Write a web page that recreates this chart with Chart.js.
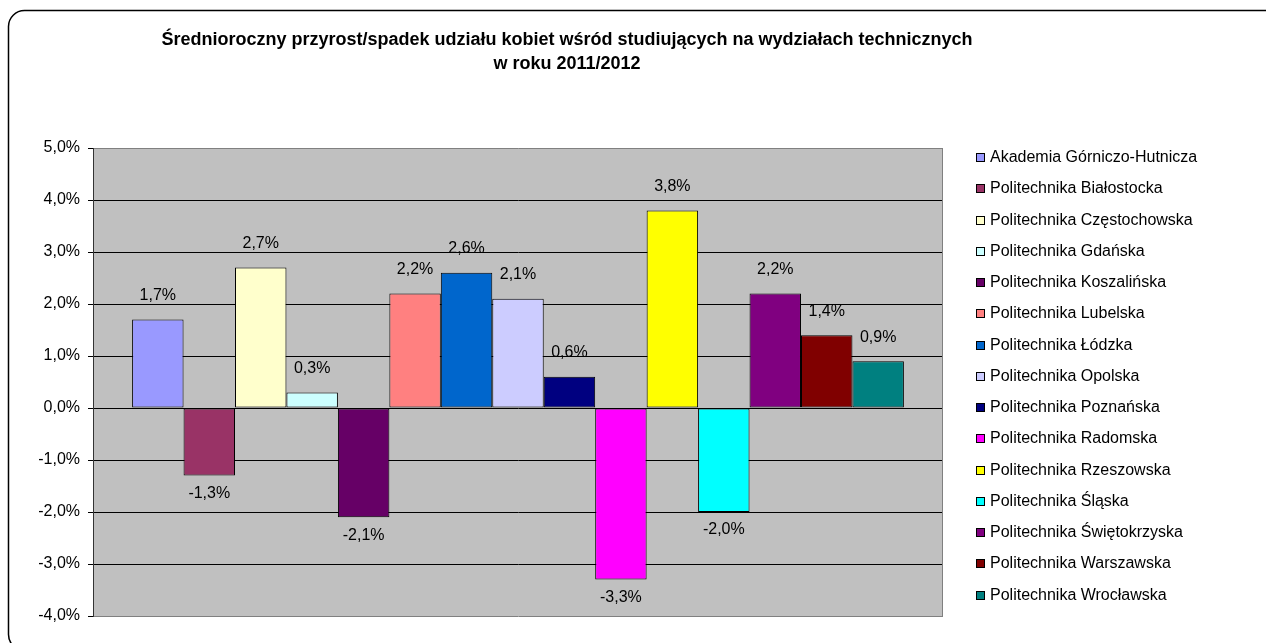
<!DOCTYPE html>
<html>
<head>
<meta charset="utf-8">
<script src="https://cdn.jsdelivr.net/npm/chart.js@4.4.1/dist/chart.umd.min.js"></script>
<style>
    html, body { margin: 0; padding: 0; background: #fff; }
    #wrap { width: 1266px; height: 643px; }
</style>
</head>
<body>
<div id="wrap"><canvas id="chart" width="1266" height="643"></canvas></div>
<script>
// Chart data
const titleLines = [
    'Średnioroczny przyrost/spadek udziału kobiet wśród studiujących na wydziałach technicznych',
    'w roku 2011/2012'
];
const universities = [
    'Akademia Górniczo-Hutnicza',
    'Politechnika Białostocka',
    'Politechnika Częstochowska',
    'Politechnika Gdańska',
    'Politechnika Koszalińska',
    'Politechnika Lubelska',
    'Politechnika Łódzka',
    'Politechnika Opolska',
    'Politechnika Poznańska',
    'Politechnika Radomska',
    'Politechnika Rzeszowska',
    'Politechnika Śląska',
    'Politechnika Świętokrzyska',
    'Politechnika Warszawska',
    'Politechnika Wrocławska'
];
const changes = [1.7, -1.3, 2.7, 0.3, -2.1, 2.2, 2.6, 2.1, 0.6, -3.3, 3.8, -2.0, 2.2, 1.4, 0.9];
const barColors = [
    '#9999FF', '#993366', '#FFFFCC', '#CCFFFF', '#660066',
    '#FF8080', '#0066CC', '#CCCCFF', '#000080', '#FF00FF',
    '#FFFF00', '#00FFFF', '#800080', '#800000', '#008080'
];
const yMin = -4;
const yMax = 5;
const yStep = 1;

const FONT = '"Liberation Sans", Arial, sans-serif';

function pct(v) {
    return v.toFixed(1).replace('.', ',') + '%';
}

// Page background, rounded frame and grey plot area
const backgroundPlugin = {
    id: 'background',
    beforeDraw(chart) {
        const ctx = chart.ctx;
        const a = chart.chartArea;
        ctx.save();
        ctx.fillStyle = '#fff';
        ctx.fillRect(0, 0, chart.width, chart.height);
        ctx.strokeStyle = '#000';
        ctx.lineWidth = 1.5;
        ctx.beginPath();
        ctx.roundRect(8.5, 10.5, 1300, 640, 16);
        ctx.stroke();
        ctx.fillStyle = '#C0C0C0';
        ctx.fillRect(a.left, a.top, a.right - a.left, a.bottom - a.top);
        ctx.restore();
    },
    beforeDatasetsDraw(chart) {
        // right edge of the plot frame (top/bottom come from the grid)
        const ctx = chart.ctx;
        const a = chart.chartArea;
        const r = Math.round(a.right) - 0.5;
        ctx.save();
        ctx.strokeStyle = '#808080';
        ctx.lineWidth = 1;
        ctx.beginPath();
        ctx.moveTo(r, Math.round(a.top) + 0.5);
        ctx.lineTo(r, Math.round(a.bottom) + 0.5);
        ctx.stroke();
        ctx.restore();
    }
};

// Value labels above / below each bar
const valueLabelPlugin = {
    id: 'valueLabels',
    afterDatasetsDraw(chart) {
        const ctx = chart.ctx;
        ctx.save();
        ctx.font = '16px ' + FONT;
        ctx.fillStyle = '#000';
        ctx.textAlign = 'center';
        ctx.textBaseline = 'middle';
        chart.data.datasets.forEach((ds, i) => {
            const bar = chart.getDatasetMeta(i).data[0];
            const v = ds.data[0];
            const y = v >= 0 ? bar.y - 24 : bar.y + 18;
            ctx.fillText(pct(v), bar.x, y);
        });
        ctx.restore();
    }
};

// Title and legend, Excel-like placement
const decorPlugin = {
    id: 'decor',
    afterDraw(chart) {
        const ctx = chart.ctx;
        ctx.save();
        ctx.fillStyle = '#000';
        ctx.textAlign = 'center';
        ctx.textBaseline = 'middle';
        ctx.font = 'bold 18px ' + FONT;
        ctx.fillText(titleLines[0], 567, 40);
        ctx.fillText(titleLines[1], 567, 64);

        ctx.font = '16px ' + FONT;
        ctx.textAlign = 'left';
        chart.data.datasets.forEach((ds, i) => {
            const cy = Math.round(157 + i * 31.25);
            ctx.fillStyle = ds.backgroundColor;
            ctx.fillRect(976, cy - 4, 9, 9);
            ctx.strokeStyle = '#000';
            ctx.lineWidth = 1;
            ctx.strokeRect(976.5, cy - 3.5, 8, 8);
            ctx.fillStyle = '#000';
            ctx.fillText(ds.label, 990, cy + 1);
        });
        ctx.restore();
    }
};

const datasets = universities.map((name, i) => ({
    label: name,
    data: [changes[i]],
    backgroundColor: barColors[i],
    borderColor: '#000',
    borderWidth: 1,
    borderSkipped: false,
    categoryPercentage: 0.908,
    barPercentage: 1
}));

new Chart(document.getElementById('chart').getContext('2d'), {
    type: 'bar',
    data: {
        labels: [''],
        datasets: datasets
    },
    options: {
        responsive: false,
        animation: false,
        devicePixelRatio: 1,
        layout: {
            padding: { left: 0, top: 148, right: 323, bottom: 27 }
        },
        plugins: {
            legend: { display: false },
            title: { display: false },
            tooltip: { enabled: false }
        },
        scales: {
            x: {
                display: false
            },
            y: {
                min: yMin,
                max: yMax,
                afterFit(scale) { scale.width = 93; },
                ticks: {
                    stepSize: yStep,
                    color: '#000',
                    padding: 8,
                    font: { family: FONT, size: 16 },
                    callback: (v) => pct(v)
                },
                grid: {
                    color: (c) => (c.tick && (c.tick.value === yMin || c.tick.value === yMax)) ? '#808080' : '#000',
                    lineWidth: 1,
                    tickLength: 5,
                    tickColor: '#000'
                },
                border: { color: '#333', width: 1 }
            }
        }
    },
    plugins: [backgroundPlugin, valueLabelPlugin, decorPlugin]
});
</script>
</body>
</html>
